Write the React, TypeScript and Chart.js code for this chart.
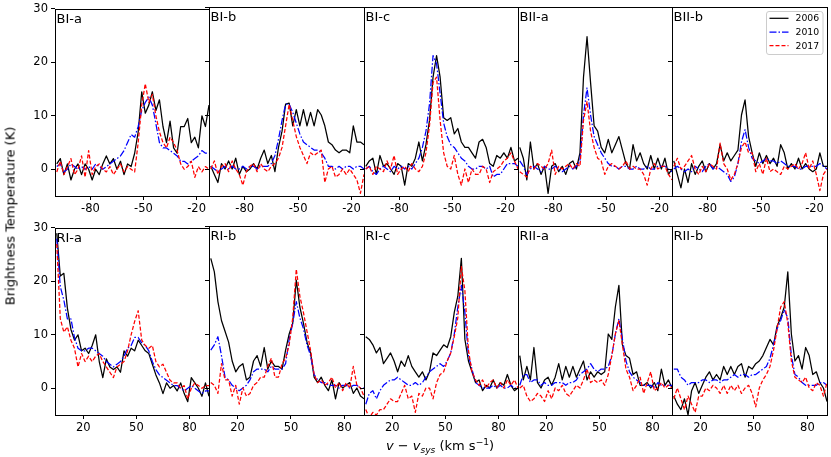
import { useEffect, useRef } from 'react';
import { Chart, ChartConfiguration, Plugin } from 'chart.js/auto';

// velocity channels (km/s) for the two rows of panels
const TOP_VEL = [-99, -97, -95, -93, -91, -89, -87, -85, -83, -81, -79, -77, -75, -73, -71, -69, -67, -65, -63, -61, -59, -57, -55, -53, -51, -49, -47, -45, -43, -41, -39, -37, -35, -33, -31, -29, -27, -25, -23, -21, -19, -17, -15, -13];
const BOTTOM_VEL = [5, 7, 9, 11, 13, 15, 17, 19, 21, 23, 25, 27, 29, 31, 33, 35, 37, 39, 41, 43, 45, 47, 49, 51, 53, 55, 57, 59, 61, 63, 65, 67, 69, 71, 73, 75, 77, 79, 81, 83, 85, 87, 89, 91];

const TOP_XTICKS = [-80, -50, -20];
const BOTTOM_XTICKS = [20, 50, 80];
const Y_TICKS = [0, 10, 20, 30];
const EPOCHS = ['2006', '2010', '2017'];

// brightness temperature (K), top row
const BIa_2006 = [1, 2, -1, 1, -2, 0, 1, -1, 1, 0, -2, 0, -1, 1, 2.5, 1, 2, 0, 1.5, -1, 1, 0.5, 3, 7, 14.5, 10.5, 12, 14.5, 11, 13, 8, 5, 9, 4, 3, 8, 8, 9.5, 5, 6, 4, 10, 8, 12];
const BIa_2010 = [0.5, 1, -0.5, 0, 1, 0.5, 0, 0.5, 0, 0.5, 0, 1, 0.5, 0, 0.5, 1, 1.5, 2, 2.5, 3.5, 5, 6.5, 6, 8, 11, 12.5, 13.5, 12, 8.5, 5, 4, 4, 3.5, 3, 2.5, 1.5, 1.5, 1, 1.5, 2, 2.5, 3.5, 3, 3];
const BIa_2017 = [-0.5, 1.5, -1, 0.5, 2, -1, 0, 2.5, -1.5, 3.5, -1, 0.5, 1, 0, -0.5, 0.5, -1, 0, 1, -0.5, 0.5, 0, -0.5, 5, 12, 16, 12.5, 14, 10, 7, 5, 4, 6, 5, 3.5, 1, 0, 0.5, 1.5, -1.5, 0.5, -0.5, 0.5, 0];

const BIb_2006 = [0.5, -1, -2.5, 1, 0, 1.5, 0, 2, -1, 0.5, -0.5, 0, 1, 0, 2, 3.5, 1, 2.5, -0.5, 4, 7, 12, 12.2, 8, 11, 8, 11, 8, 10.5, 8, 11, 10, 8, 5, 4.5, 3.5, 3, 3.5, 3.5, 3, 8, 5, 5, 4.5];
const BIb_2010 = [0.5, 0, -0.5, 0, 0.5, 0, 0.5, 0, 0, 0.5, 0, 0.5, 0.5, 0, 0.5, 0.5, 0.5, 1, 2.5, 5.5, 9, 12, 12, 10.5, 8.5, 6.5, 5, 4.5, 4, 3.5, 3.5, 3, 2, 0.5, 0.5, 0, 0.5, 0, 0.5, 0.5, 0, 0.5, 0.5, 0];
const BIb_2017 = [0, 1.5, -1, 0.5, 1, -0.5, 1.5, 0, -1, -3, -0.5, 0.5, 1, -0.5, 1, 0, -0.5, 0.5, 1, 2, 4, 8, 12, 9, 6, 4, 2.5, 1, 3, 2.5, 3, 3.5, -2.5, 0, 0.5, -1.5, -1, 0, -1, 0, -1, -2, -4.5, -1];

const BIc_2006 = [0.5, 1.5, 2, -1, 2.5, 0.5, 1, 0, -1, 1, 0.5, -3, 1, 0.5, 2, 5, 1.5, 4.5, 9, 17, 21, 17, 9.5, 9, 9.5, 6.5, 7.5, 5, 4, 4, 3, 2, 5, 5.5, 4, 1, 0.5, 2.5, 2, 3, 2, 4, 1.5, 2];
const BIc_2010 = [0, 0.5, -0.5, -1, 0, 0.5, 0, -0.5, 0.5, 0, 0.5, 0, 0.5, 0, 1, 2, 4, 7, 12, 21, 19.5, 14, 8.5, 6, 4.5, 4, 3, 2, 1.5, 0.5, 0, 0, 0.5, 0.5, 0, 0.5, -1.5, -1, -1, 0, 1, 1, 1, 0.5];
const BIc_2017 = [0, 0.5, -1, 0.5, 0, -0.5, 1.5, 0, 2.5, -1, 0, 0.5, -0.5, 1, 0, -0.5, 0.5, 3, 8, 16, 17, 9, 3, 0.5, 0, 2.5, -1, -3, 0, -2.5, 0, -1, -1, 0.5, 0, -2.5, -0.5, 0, 0.5, 1.5, 2, 3, 1.5, 0];

const BIIa_2006 = [4, 2, -2, 5, 0, 1, -1, 0.5, -4.5, 0.5, 1, -0.5, 0.5, -1, 1, 1.5, 0, 3, 17, 24.5, 16, 8, 7, 4, 3, 5.5, 3, 4.5, 6, 3.5, 1, 0, 4.5, 1.5, 3, 1, 0, 2.5, 0, 2, 0, 2, -1, 0];
const BIIa_2010 = [1.5, 0.5, -1, 0, 0.5, 0, -0.5, 0.5, 0, 0, 0.5, 0, -0.5, 0, 0.5, 0, 0.5, 1.5, 10, 15, 10, 6, 4.5, 3, 2, 1, 0.5, 0.5, 0, 0.5, 0.5, 0, 0, 0.5, 0, 0, 0.5, 0, 0, 0.5, 0.5, 0.5, 0, -0.5];
const BIIa_2017 = [-0.5, -1, -1.5, 0.5, 0, 1, 0.5, 0, 1, 3.5, -1, 0.5, 0, 0.5, 1, 0, 1, 0.5, 9, 12.5, 7, 4, 2, 1.5, -1, 0.5, 1, 0.5, 0, 0.5, 1.5, 0, 0.5, 0, 0, -1, -3, 0, 1, 0, 0.5, 0.5, -1, -2];

const BIIb_2006 = [1.5, -1, -3.5, 0, -2.5, 1, -1, 0.5, 1.5, -0.5, 1, 0, 1, 4.5, 1.5, 3, 1.5, 2.5, 3.5, 10, 12.8, 6, 3, 0.5, 3, 1, 2.5, 1, 2, 0.5, 4.5, 3, 0, 1, 0, 2, 0, 1, 0, -0.5, 0, 3, 0.5, 0.5];
const BIIb_2010 = [0, 0.5, 0, -0.5, 0, -0.5, 0.5, 0, -0.5, 0.5, 1, 0, 0.5, 0, -0.5, -1, -2.3, -1.5, 1, 5, 7.3, 4, 2, 1.5, 1, 1.5, 2, 1.5, 1.5, 1, 1.5, 1, 0.5, 0.5, 0.5, 0, 0, 0.5, 0.5, 0.5, 0.5, 1, 0.5, 0];
const BIIb_2017 = [0.5, 2, 0, 0.5, 1.5, 2.5, 0, -1, 0.5, -0.5, 1, 0.5, 0, 4.8, 1, 0, -2, -1, 1, 4, 5, 3, 3, -0.5, 1, -1, 2, -0.5, 0, -0.5, -1, 0.5, 0, 0.5, 1, 0, 1, 3, 0, 1.5, -1, -4, -1, 0];

// bottom row
const RIa_2006 = [29, 21, 21.5, 15, 11, 9, 10, 7, 7.5, 6.5, 8, 10, 5, 2, 5.5, 4, 3.5, 4, 3, 7, 6, 7.5, 7, 9, 8, 7, 6.5, 4.5, 2.5, 1, -1, 1, 0, 0.5, -0.5, 1, -1, -2.5, 2, 1, 0, -1.5, 1, -1.5];
const RIa_2010 = [28, 19, 16.5, 13, 13, 9.5, 7.5, 7, 7, 7.5, 7.5, 7, 6.5, 6, 5, 4.5, 4, 4.5, 5, 6, 7.5, 8, 9.5, 9.5, 8.5, 8, 7, 5, 3.5, 2.5, 2, 1.5, 1, 0.5, 0.5, 0, -0.5, 0, 0.5, 0, -0.5, -1, -0.5, -0.5];
const RIa_2017 = [27, 13, 10.5, 11.5, 9, 7.5, 4, 6.5, 5, 6, 5, 6, 6.5, 5, 4, 3, 2, 4, 4.5, 5, 7, 10, 12.5, 14.5, 9, 8, 7.5, 8, 5, 4, 4.5, 3, 1.5, 1, 1, 0, 0.5, -2, 0, 1, 0.5, 0, 0.5, 0.5];

const RIb_2006 = [24, 21.5, 16, 12.5, 10.5, 8.5, 5, 3, 4, 4.5, 1.5, 2, 5, 6, 4, 7.5, 3.5, 5, 4, 4, 3.5, 7, 10, 12, 20, 15, 12, 8.5, 6.5, 2, 1, 2, 0.5, -0.5, 1.5, -2, 1, 0, 0.5, 1, -1, 0, -1.5, -2];
const RIb_2010 = [7, 8, 9.5, 6, 2, 1.5, 0.5, 0, -0.5, 0, 0.5, 1.5, 3, 3.5, 3.5, 3.5, 3, 4, 3.5, 3.5, 3.5, 4.5, 9, 12, 16, 13, 11, 8, 6, 2.5, 1.5, 1, 1, 0.5, 0.5, 0.5, 0, 0.5, 0.5, 0, 0.5, 0.5, 0, 0];
const RIb_2017 = [1, 0.5, -1, 4.5, 1.5, 1.5, -1.5, 0.5, -3, 0, -1.5, -1, 0.5, 1, 2, 2, 4, 5.5, 2, 2, 4.5, 5.5, 8, 13, 22, 17, 14, 10.5, 7, 2.5, 1, 1.5, 0.5, 1, 2, 0, 1, -0.5, 1, 0, 4, 0.5, 0, -1.5];

const RIc_2006 = [9.5, 9, 8, 6.5, 7.5, 4.5, 5.5, 6.5, 5, 3, 5, 4, 6, 4, 3, 2, 3, 1.5, 3, 6.5, 6, 7, 8, 7.5, 9.5, 14, 17, 24, 9, 5, 3, 1, 1.5, -0.5, 0.5, 0, 1.5, 0, 1, 0.5, 2.5, 0.5, -0.5, 0];
const RIc_2010 = [-3, -1, -0.5, -2, -0.5, 0.5, 1, 1.5, 1.5, 2, 1.5, 1, 0.5, 0.5, 1, 0.5, 1, 2, 3, 3.5, 4, 4.5, 4, 5, 6.5, 10, 15, 19, 14, 6, 3.5, 1, 0.5, 0, 0, 0, 0.5, 0, 0.5, 0, 0, 0.5, 0, 0];
const RIc_2017 = [-4, -5.5, -4.5, -5, -4, -4, -3, -2, -2.5, -2.5, -1, 0.5, -2, -1.5, -4.5, -1, -1.5, 0, 0, -2, 1, 2.5, 3, 5, 6.5, 9.5, 13, 22.5, 18, 7, 3, 1.5, 0.5, 1.5, 0, 1, 1.5, 0, 1, 0, 1.5, 0.5, 1.5, 0];

const RIIa_2006 = [6, 1.5, 4, 1.5, 7.5, 1, 0, 1.5, 2, 0.5, 2, 4.5, 1.5, 4, 2, 4, 2, 3.5, 5, 1.5, 3, 2, 3, 2.5, 3, 10, 9, 15, 19, 8, 6, 5.5, 2.5, 3, 0.5, 0.5, 1, 0, 1, -0.5, 3.5, 0.5, 1.5, 0];
const RIIa_2010 = [0.5, 2.5, 2.5, 1, 1.5, 1.5, 0.5, 1, 0.5, 0.5, 1, 1, 1, 0.5, 1, 1, 1.5, 2.5, 3, 3.5, 4.5, 3.5, 3, 3.5, 3.5, 4, 6, 10, 12.8, 9, 5, 3, 2, 1.5, 1, 0.5, 0.5, 0.5, 0, 1, 0.5, 0.5, 0.5, 0.5];
const RIIa_2017 = [0, 0.5, -1.5, -2.5, -2, -1, -1.5, -2.5, -0.5, -2, 0, -0.5, 0.5, -1, -1.5, -0.5, 0.5, 0, 1.5, 3.5, 1, 1.5, 1, 1.5, 0.5, 2.5, 6, 10, 12.5, 8, 3.5, 2, -0.5, 0.5, 2, -1, 1, 3, -0.5, 0, 1, 0, 0.5, 0];

const RIIb_2006 = [-1.5, -3, -4, -2, -5, -0.5, 1, -1, 0.5, 2, 3, 1.5, 2.5, 1.5, 4, 2.5, 4, 2.5, 4, 4.5, 2, 4, 3.5, 4.5, 5, 6, 7.5, 9, 8, 11.5, 13, 15, 21.5, 10, 5, 6, 3.5, 7.5, 6, 2.5, 3, 1, 0, -2.5];
const RIIb_2010 = [3.5, 3.5, 2, 1.5, 0.5, 1, 1, 1, 1.5, 1.5, 1, 1.5, 1.5, 1, 1.5, 1.5, 2, 2.5, 2, 2.5, 2.5, 2, 2.5, 2.5, 3, 3.5, 4, 5.5, 8, 11, 12.5, 14.5, 13, 6, 2.5, 2, 1, 0.5, 0.5, 0.5, 0.5, 1, 1, 0.5];
const RIIb_2017 = [-2, 0, -2, -4, -1.5, -3, -4.5, -1.5, -1.5, 0, -0.5, 0.5, 0, -1, 0.5, -1, 0.5, -0.5, 0.5, -1, 0, 0.5, -1, -3.5, 0, 1.5, 2.5, 4, 7, 11, 15, 16, 12, 5, 2, 1.5, 1, 2, 0, -0.5, 1, 0.5, -1.5, 1];

type Panel = { label: string; row: number; col: number; series: number[][] };

const PANELS: Panel[] = [
  { label: 'BI-a', row: 0, col: 0, series: [BIa_2006, BIa_2010, BIa_2017] },
  { label: 'BI-b', row: 0, col: 1, series: [BIb_2006, BIb_2010, BIb_2017] },
  { label: 'BI-c', row: 0, col: 2, series: [BIc_2006, BIc_2010, BIc_2017] },
  { label: 'BII-a', row: 0, col: 3, series: [BIIa_2006, BIIa_2010, BIIa_2017] },
  { label: 'BII-b', row: 0, col: 4, series: [BIIb_2006, BIIb_2010, BIIb_2017] },
  { label: 'RI-a', row: 1, col: 0, series: [RIa_2006, RIa_2010, RIa_2017] },
  { label: 'RI-b', row: 1, col: 1, series: [RIb_2006, RIb_2010, RIb_2017] },
  { label: 'RI-c', row: 1, col: 2, series: [RIc_2006, RIc_2010, RIc_2017] },
  { label: 'RII-a', row: 1, col: 3, series: [RIIa_2006, RIIa_2010, RIIa_2017] },
  { label: 'RII-b', row: 1, col: 4, series: [RIIb_2006, RIIb_2010, RIIb_2017] },
];

const STYLES = [
  { color: '#000000', dash: [] as number[] },
  { color: '#0000ff', dash: [7, 2, 1.5, 2] },
  { color: '#ff0000', dash: [4, 2] },
];

const FONT = '"DejaVu Sans", sans-serif';
const COL_LEFT = [55, 209, 364, 518, 672];
const COL_RIGHT = [209, 364, 518, 672, 827];
const ROW_TOP = [7, 226];
const PLOT_H = 189;
const PAD_T = 8;
const PAD_R = 3;
const PAD_B = 24;

function framePlugin(label: string, withLegend: boolean): Plugin<'line'> {
  return {
    id: 'frame',
    afterDatasetsDraw(chart) {
      const { ctx } = chart;
      const { left, top, right, bottom } = chart.chartArea;
      const l = Math.round(left), t = Math.round(top), r = Math.round(right), b = Math.round(bottom);
      ctx.save();
      ctx.strokeStyle = '#000';
      ctx.lineWidth = 1;
      ctx.setLineDash([]);
      ctx.strokeRect(l + 0.5, t + 0.5, r - l, b - t);

      ctx.fillStyle = '#000';
      ctx.font = `13px ${FONT}`;
      ctx.textBaseline = 'alphabetic';
      ctx.textAlign = 'left';
      ctx.fillText(label, l + 1.5, t + 13.5);

      if (withLegend) {
        const bx = r - 61, by = t + 4, bw = 56.5, bh = 43;
        ctx.beginPath();
        ctx.roundRect(bx + 0.5, by + 0.5, bw, bh, 2.5);
        ctx.fillStyle = 'rgba(255,255,255,0.8)';
        ctx.fill();
        ctx.strokeStyle = '#cccccc';
        ctx.stroke();
        ctx.font = `9.3px ${FONT}`;
        ctx.textBaseline = 'middle';
        EPOCHS.forEach((name, k) => {
          const y = by + 7.3 + k * 13.7;
          ctx.beginPath();
          ctx.strokeStyle = STYLES[k].color;
          ctx.lineWidth = 1.25;
          ctx.setLineDash(STYLES[k].dash);
          ctx.moveTo(r - 57.5, y);
          ctx.lineTo(r - 38.5, y);
          ctx.stroke();
          ctx.fillStyle = '#000';
          ctx.fillText(name, r - 31.5, y + 0.5);
        });
      }
      ctx.restore();
    },
  };
}

function SpectrumPanel({ panel }: { panel: Panel }) {
  const canvasRef = useRef<HTMLCanvasElement>(null);
  const padL = panel.col === 0 ? 40 : 6;
  const width = COL_RIGHT[panel.col] - COL_LEFT[panel.col];

  useEffect(() => {
    if (!canvasRef.current) return;
    const top = panel.row === 0;
    const vel = top ? TOP_VEL : BOTTOM_VEL;
    const xTicks = top ? TOP_XTICKS : BOTTOM_XTICKS;

    const config: ChartConfiguration<'line'> = {
      type: 'line',
      data: {
        datasets: panel.series.map((vals, k) => ({
          label: EPOCHS[k],
          data: vel.map((v, i) => ({ x: v, y: vals[i] })),
          borderColor: STYLES[k].color,
          borderWidth: 1.25,
          borderDash: STYLES[k].dash,
          borderJoinStyle: 'round',
          pointRadius: 0,
          fill: false,
          tension: 0,
          clip: 0,
          order: 2 - k,
        })),
      },
      options: {
        animation: false,
        responsive: true,
        maintainAspectRatio: false,
        events: [],
        layout: { padding: { left: 0, top: PAD_T, right: PAD_R, bottom: 0 } },
        plugins: { legend: { display: false }, tooltip: { enabled: false } },
        scales: {
          x: {
            type: 'linear',
            min: top ? -100 : 4,
            max: top ? -13 : 91,
            afterBuildTicks: (s) => { s.ticks = xTicks.map((value) => ({ value })); },
            afterFit: (s) => { s.height = PAD_B; },
            grid: { display: true, drawOnChartArea: false, drawTicks: true, tickLength: 4, color: '#000' },
            border: { display: false },
            ticks: { color: '#000', font: { family: FONT, size: 11.5 }, padding: 2, maxRotation: 0, autoSkip: false },
          },
          y: {
            min: -5,
            max: 30,
            afterBuildTicks: (s) => { s.ticks = Y_TICKS.map((value) => ({ value })); },
            afterFit: (s) => { s.width = padL; },
            grid: { display: true, drawOnChartArea: false, drawTicks: true, tickLength: 4, color: '#000' },
            border: { display: false },
            ticks: { display: panel.col === 0, color: '#000', font: { family: FONT, size: 11.5 }, padding: 3 },
          },
        },
      },
      plugins: [framePlugin(panel.label, panel.row === 0 && panel.col === 4)],
    };

    const chart = new Chart(canvasRef.current, config);
    return () => chart.destroy();
  }, [panel, padL]);

  return (
    <div
      style={{
        position: 'absolute',
        left: COL_LEFT[panel.col] - padL,
        top: ROW_TOP[panel.row] - PAD_T,
        width: padL + width + PAD_R,
        height: PAD_T + PLOT_H + PAD_B,
      }}
    >
      <canvas ref={canvasRef}></canvas>
    </div>
  );
}

export default function App() {
  return (
    <div style={{ position: 'absolute', left: 0, top: 0, width: 831, height: 457, background: '#fff', fontFamily: FONT, color: '#000' }}>
      {PANELS.map((p) => (
        <SpectrumPanel key={p.label} panel={p} />
      ))}
      <div
        style={{
          position: 'absolute',
          left: 9.5,
          top: 216,
          transform: 'translate(-50%, -50%) rotate(-90deg)',
          whiteSpace: 'nowrap',
          fontSize: 13,
          fontWeight: 400,
          lineHeight: 1,
        }}
      >
        Brightness Temperature (K)
      </div>
      <div
        style={{
          position: 'absolute',
          left: 440,
          top: 446,
          transform: 'translate(-50%, -50%)',
          whiteSpace: 'nowrap',
          fontSize: 13,
          fontWeight: 400,
          lineHeight: 1,
        }}
      >
        <i>v</i> − <i>v</i>
        <span style={{ fontSize: '0.7em', position: 'relative', top: '0.3em' }}><i>sys</i></span> (km s
        <span style={{ fontSize: '0.7em', position: 'relative', top: '-0.5em' }}>−1</span>)
      </div>
    </div>
  );
}
